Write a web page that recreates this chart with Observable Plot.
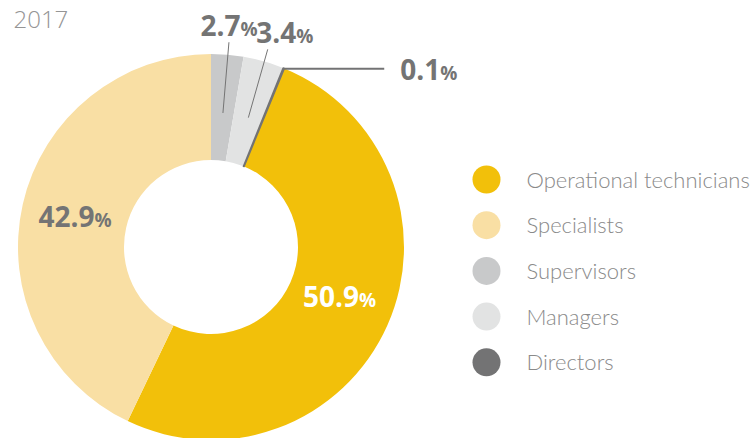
<!DOCTYPE html>
<html><head><meta charset="utf-8">
<script src="https://cdn.jsdelivr.net/npm/d3@7"></script>
<script src="https://cdn.jsdelivr.net/npm/@observablehq/plot@0.6"></script>
<style>
html,body{margin:0;padding:0;background:#fff;}
#chart{position:relative;width:756px;height:438px;overflow:hidden;}
#chart svg{display:block;}
</style></head><body><div id="chart"></div>
<script>
// ---- data ----
const title = "2017";
const categories = ["Operational technicians", "Specialists", "Supervisors", "Managers", "Directors"];
const shares = [50.9, 42.9, 2.7, 3.4, 0.1];
const shareLabels = ["50.9%", "42.9%", "2.7%", "3.4%", "0.1%"];
const colors = ["#F2C00A", "#F9DFA4", "#C8C9CA", "#E2E3E3", "#737374"];
const pieOrder = ["Supervisors", "Managers", "Directors", "Operational technicians", "Specialists"];

// ---- layout ----
const W = 756, H = 438;
const cx = 211, cy = 247, R = 193, R0 = 87;
const labelGray = "#747474";

const rows = categories.map((c, i) => ({category: c, value: shares[i], label: shareLabels[i], i}));
const arcs = d3.pie()
  .sort((a, b) => pieOrder.indexOf(a.category) - pieOrder.indexOf(b.category))
  .value(d => d.value)(rows);
const mid = a => (a.startAngle + a.endAngle) / 2;
const polar = (ang, r) => [cx + r * Math.sin(ang), cy - r * Math.cos(ang)];

// label groups
const insideShift = {"Operational technicians": -7};
const radialLabelShift = {"Managers": 17};
const inside = [], radial = [], flat = [];
arcs.forEach(a => {
  const m = mid(a);
  if (a.data.value >= 10) {
    const [x, y] = polar(m, 140);
    inside.push({...a.data, x, y: y + (insideShift[a.data.category] || 0)});
  } else if (a.data.value >= 1) {
    const [x1, y1] = polar(m, 135);
    const [x2, y2] = polar(m, 206);
    radial.push({...a.data, x1, y1, x2, y2});
  } else {
    const [x1, y1] = polar(m, R);
    flat.push({...a.data, x1, y1, x2: x1 + 100, y2: y1});
  }
});

const legendRows = rows.map((d, i) => ({...d, lx: 486, ly: 179 + i * 45.7}));

function donut(index, scales) {
  const x0 = scales.x(cx), y0 = scales.y(cy);
  const rOut = scales.x(cx + R) - x0, rIn = scales.x(cx + R0) - x0;
  const arc = d3.arc().innerRadius(rIn).outerRadius(rOut);
  const col = c => scales.color ? scales.color(c) : colors[categories.indexOf(c)];
  const g = d3.create("svg:g").attr("aria-label", "donut").attr("transform", `translate(${x0},${y0})`);
  g.selectAll("path").data(arcs).join("path")
    .attr("d", arc)
    .attr("fill", d => col(d.data.category))
    .attr("stroke", d => d.data.value < 1 ? col(d.data.category) : "none")
    .attr("stroke-width", 1.6)
    .attr("stroke-linejoin", "round");
  return g.node();
}

const bold = {fontFamily: "'Open Sans', sans-serif", fontWeight: 700, fontSize: 28, lineAnchor: "bottom"};

const plot = Plot.plot({
  width: W, height: H, margin: 0,
  x: {domain: [0, W], range: [0, W], axis: null},
  y: {domain: [0, H], range: [0, H], axis: null},
  color: {domain: categories, range: colors},
  marks: [
    donut,
    Plot.link(radial, {x1: "x1", y1: "y1", x2: "x2", y2: "y2", stroke: labelGray, strokeWidth: 1}),
    Plot.link(flat, {x1: "x1", y1: "y1", x2: "x2", y2: "y2", stroke: "#737374", strokeWidth: 2.2}),
    Plot.text(inside.filter(d => d.i === 0), {x: "x", y: d => d.y + 10, text: "label", fill: "white", textAnchor: "middle", ...bold}),
    Plot.text(inside.filter(d => d.i !== 0), {x: "x", y: d => d.y + 10, text: "label", fill: labelGray, textAnchor: "middle", ...bold}),
    Plot.text(radial, {x: d => d.x2 + (radialLabelShift[d.category] || 0), y: d => d.y2 - 6, text: "label", fill: labelGray, textAnchor: "middle", ...bold}),
    Plot.text(flat, {x: d => d.x2 + 16, y: d => d.y2 + 11, text: "label", fill: labelGray, textAnchor: "start", ...bold}),
    Plot.dot(legendRows, {x: "lx", y: "ly", r: 14, fill: "category"}),
    Plot.text(legendRows, {x: d => d.lx + 40, y: d => d.ly + 8, text: "category", textAnchor: "start", lineAnchor: "bottom",
      fill: "#8a8a8a", fontFamily: "Lato, sans-serif", fontWeight: 300, fontSize: 22}),
    Plot.text([title], {x: 13, y: 27, text: d => d, textAnchor: "start", lineAnchor: "bottom",
      fill: "#959595", fontFamily: "'Open Sans', sans-serif", fontWeight: 300, fontSize: 24})
  ]
});

// smaller percent sign
d3.select(plot).selectAll("text").each(function () {
  const m = this.textContent.match(/^([\d.]+)%$/);
  if (m) {
    this.textContent = m[1];
    d3.select(this).append("tspan").attr("font-size", 19).text("%");
  }
});

document.getElementById("chart").appendChild(plot);
</script>
</body></html>
